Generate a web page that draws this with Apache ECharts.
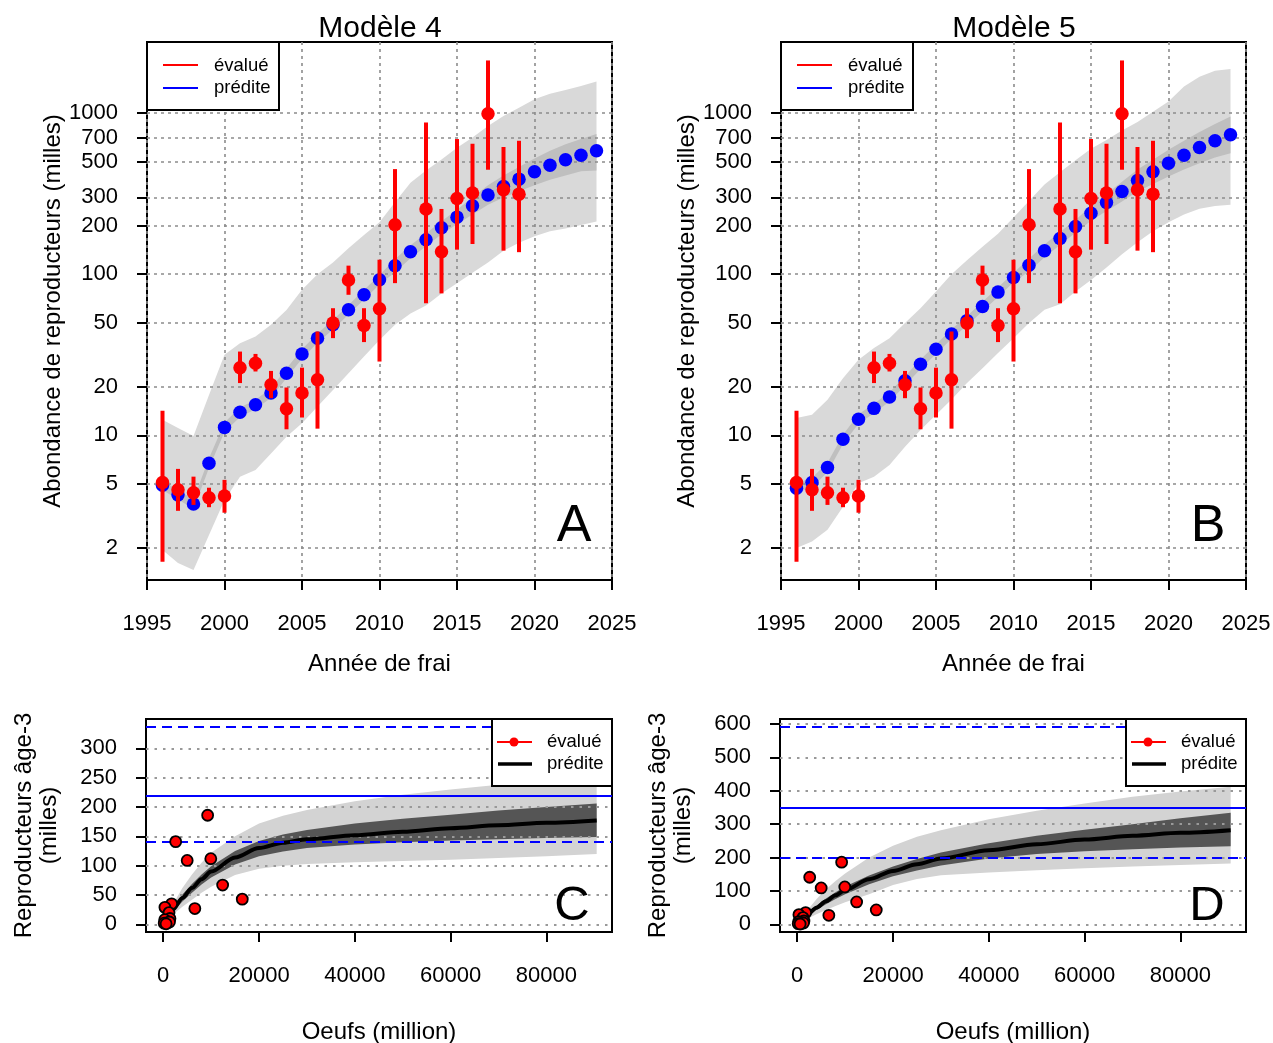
<!DOCTYPE html>
<html><head><meta charset="utf-8">
<script src="https://cdn.jsdelivr.net/npm/echarts@6/dist/echarts.min.js"></script>
<style>html,body{margin:0;padding:0;background:#fff}#c{width:1273px;height:1043px}</style>
</head><body><div id="c"></div>
<script>
// ---------- Data: panels A/B (spawner abundance, thousands, log scale) ----------
const years = [1996,1997,1998,1999,2000,2001,2002,2003,2004,2005,2006,2007,2008,2009,2010,2011,2012,2013,2014,2015,2016,2017,2018,2019,2020,2021,2022,2023,2024];
const evalYears = [1996,1997,1998,1999,2000,2001,2002,2003,2004,2005,2006,2007,2008,2009,2010,2011,2013,2014,2015,2016,2017,2018,2019];
const evalVal = [5.1,4.6,4.4,4.1,4.2,26.3,28.0,20.6,14.6,18.3,22.1,49.7,92,48.0,61,203,254,138,295,319,990,334,314];
const evalLo  = [1.64,3.40,3.70,3.58,3.31,21.1,24.9,17.0,10.9,12.9,11.0,40.1,74.5,37.9,28.7,88,66,76,142,154,445,140,137];
const evalHi  = [14.2,6.19,5.54,4.73,5.29,33.1,32.0,25.1,19.8,26.3,44.1,61.5,113,61.5,123,449,874,254,690,645,2121,616,673];

const predA      = [4.9,4.27,3.75,6.71,11.2,13.9,15.5,18.3,24.3,32.0,40.1,48.5,60.1,74.5,92.3,112.8,137.8,163.5,194,226,266,310,350,389,432,475,513,548,583];
const darkA_hi   = [5.25,4.57,4.0,7.2,12.0,14.9,16.6,19.6,26.0,34.2,42.9,51.9,64.3,79.7,98.8,123.6,151,179,213,251,300,357,410,463,523,584,641,690,741];
const darkA_lo   = [4.58,3.99,3.5,6.27,10.5,13.0,14.5,17.1,22.7,29.9,37.5,45.3,56.2,69.6,86.3,102.9,125.7,149,177,204,235,270,299,327,357,386,410,435,440];
const lightA_hi  = [12.5,11.1,9.9,17.8,31.6,37.3,41,48.5,60,80,100,118,145,175,210,280,370,440,515,610,705,830,960,1080,1220,1320,1390,1470,1570];
const lightA_lo  = [1.94,1.61,1.46,2.41,3.97,5.54,6.1,7.7,9.8,11.9,15.1,19.1,24.3,30.8,39,48.5,57,64,76,88,102,118,140,157,172,185,192,202,212];

const predB      = [4.7,5.09,6.31,9.46,12.6,14.7,17.3,21.8,27.6,34.2,42.5,51.5,63,77.4,95.3,113.8,139.6,166.5,197.8,239,278.6,325.8,381.6,432,489,548,611,673,733];
const darkB_hi   = [5.03,5.45,6.75,10.1,13.5,15.7,18.5,23.3,29.5,36.6,45.5,55.1,67.4,82.8,102,124.7,153,182.5,216.8,265,315,375,446,514,592,674,764,855,953];
const darkB_lo   = [4.39,4.76,5.9,8.84,11.8,13.7,16.2,20.4,25.8,32.0,39.7,48.1,58.9,72.3,89.1,103.8,127.4,151.9,180.5,215,246.5,283,326,363,404,446,489,530,564];
const lightB_hi  = [12.8,13.4,16.6,22.6,29.4,34.8,40.1,49.7,61.5,78,100,122,148,178,225,285,360,430,510,600,680,780,880,1020,1180,1460,1680,1830,1880];
const lightB_lo  = [2.0,2.19,2.59,3.6,5.05,5.54,6.55,8.5,10.8,13.4,16.7,21.1,26.1,32.4,40.1,49.7,60.1,65,78,92,110,133,158,185,210,235,255,265,270];

const logTicks = [2,5,10,20,50,100,200,300,500,700,1000];

// ---------- Data: panels C/D (stock-recruitment) ----------
const srEggs  = [9270,2600,5000,9930,12400,16500,6600,1750,350,1200,1400,300,900,200,1300,600];
const srSpawn = [186,141,109,112,67,43,27,35,29,20,10,8,3,2,4,1];

const eggsGrid = [1000,2000,4000,6000,8000,10000,15000,20000,25000,30000,40000,50000,60000,70000,80000,90500];
const curveC    = [14,25,45,62,77,90,114,130,139,145,152,158,164,169,173,177];
const darkC_hi  = [16,29,51,69,85,99,125,142,153,161,172,180,187,194,200,206];
const darkC_lo  = [12,21,39,54,68,80,102,116,124,130,136,140,143,145,147,149];
const lightC_hi = [18,34,62,85,105,122,150,172,185,195,210,221,230,238,245,252];
const lightC_lo = [10,17,30,42,54,64,84,95,100,103,106,108,110,113,116,120];

const curveD    = [14,27,50,69,87,103,135,160,180,197,222,240,254,265,274,282];
const darkD_hi  = [16,31,56,77,96,113,146,173,196,215,243,265,283,300,318,334];
const darkD_lo  = [12,23,43,60,76,90,120,144,161,176,197,211,219,225,230,234];
const lightD_hi = [20,40,75,105,130,152,200,235,262,282,315,340,362,382,398,412];
const lightD_lo = [8,16,30,43,55,66,90,118,136,147,155,162,168,173,178,182];

const refC = [336, 220, 140];   // dashed, solid, dashed
const refD = [592, 349, 199];
const ticksC = [0,50,100,150,200,250,300];
const ticksD = [0,100,200,300,400,500,600];
const eggTicks = [0,20000,40000,60000,80000];

// ---------- Helpers ----------
const FF = '"Liberation Sans", Arial, sans-serif';
const zip2 = (a,b) => a.map((v,i)=>[v,b[i]]);

function band(xi, xs, lo, hi, color) {
  const data = xs.map((x,i)=>[x, lo[i], hi[i]]);
  return {
    type:'custom', xAxisIndex:xi, yAxisIndex:xi, z:0, silent:true, clip:true,
    data, encode:{x:0, y:[1,2]},
    renderItem(params, api) {
      if (params.dataIndex !== 0) return null;
      const top = [], bot = [];
      for (let i=0;i<data.length;i++) {
        top.push(api.coord([data[i][0], data[i][2]]));
        bot.push(api.coord([data[i][0], data[i][1]]));
      }
      return {type:'polygon', shape:{points: top.concat(bot.reverse())}, style:{fill:color}};
    }
  };
}
function errBars(xi) {
  return {
    type:'custom', xAxisIndex:xi, yAxisIndex:xi, z:4, silent:true,
    data: evalYears.map((y,i)=>[y, evalLo[i], evalHi[i]]), encode:{x:0, y:[1,2]},
    renderItem(params, api) {
      const x = api.value(0);
      const p1 = api.coord([x, api.value(1)]), p2 = api.coord([x, api.value(2)]);
      return {type:'line', shape:{x1:p1[0],y1:p1[1],x2:p2[0],y2:p2[1]}, style:{stroke:'#ff0000', lineWidth:4}};
    }
  };
}
const tickStyle = {show:true, length:10, inside:false, lineStyle:{color:'#000', width:2}};
const labelStyle = {fontSize:22, color:'#000', fontFamily:FF};
const nameStyle = {fontSize:24, color:'#000', fontFamily:FF};
const noLine = {show:false, onZero:false};

function xYear(gi) {
  return {gridIndex:gi, type:'value', min:1995, max:2025, interval:5, z:1,
    axisLine:noLine, axisTick:tickStyle,
    axisLabel:Object.assign({margin:33, formatter:v=>String(v)}, labelStyle),
    splitLine:{show:true, lineStyle:{color:'#8c8c8c', width:1.6, type:[3,4]}},
    name:'Année de frai', nameLocation:'middle', nameGap:72, nameTextStyle:nameStyle};
}
function yLog(gi) {
  return {gridIndex:gi, type:'log', logBase:10, min:1.265, max:2761, z:1,
    axisLine:noLine,
    axisTick:Object.assign({customValues:logTicks}, tickStyle),
    axisLabel:Object.assign({customValues:logTicks, margin:29, padding:[4,0,0,0], formatter:v=>String(Math.round(v))}, labelStyle),
    splitLine:{show:true, lineStyle:{color:'#8c8c8c', width:1.6, type:[3,4]}},
    minorTick:{show:false}, minorSplitLine:{show:false},
    name:'Abondance de reproducteurs (milles)', nameLocation:'middle', nameGap:70, nameTextStyle:nameStyle};
}
function xEggs(gi) {
  return {gridIndex:gi, type:'value', min:-3600, max:93700, z:1,
    axisLine:noLine,
    axisTick:Object.assign({customValues:eggTicks}, tickStyle),
    axisLabel:Object.assign({customValues:eggTicks, margin:33, formatter:v=>String(v)}, labelStyle),
    splitLine:{show:false},
    name:'Oeufs (million)', nameLocation:'middle', nameGap:88, nameTextStyle:nameStyle};
}
function ySR(gi, min, max, ticks) {
  return {gridIndex:gi, type:'value', min:min, max:max, z:1,
    axisLine:noLine,
    axisTick:Object.assign({customValues:ticks}, tickStyle),
    axisLabel:Object.assign({customValues:ticks, margin:29, padding:[4,0,0,0], formatter:v=>String(v)}, labelStyle),
    splitLine:{show:true, lineStyle:{color:'#999', width:2, type:[2.5,6]}},
    name:'Reproducteurs âge-3\n(milles)', nameLocation:'middle', nameGap:84,
    nameTextStyle:Object.assign({lineHeight:25}, nameStyle)};
}
function refLines(xi, vals) {
  return {type:'line', xAxisIndex:xi, yAxisIndex:xi, data:[], z:3, silent:true,
    markLine:{silent:true, symbol:'none', label:{show:false}, animation:false,
      data:[
        {yAxis:vals[0], lineStyle:{color:'#0000ff', width:2, type:[10,6]}},
        {yAxis:vals[1], lineStyle:{color:'#0000ff', width:2, type:'solid'}},
        {yAxis:vals[2], lineStyle:{color:'#0000ff', width:2, type:[10,6]}}
      ]}};
}

// legend graphics
function legendAB(x0) {
  return [
    {type:'rect', z:100, shape:{x:x0, y:42, width:132, height:68}, style:{fill:'#fff', stroke:'#000', lineWidth:2}},
    {type:'line', z:101, shape:{x1:x0+16, y1:65, x2:x0+51, y2:65}, style:{stroke:'#ff0000', lineWidth:2}},
    {type:'line', z:101, shape:{x1:x0+16, y1:88, x2:x0+51, y2:88}, style:{stroke:'#0000ff', lineWidth:2}},
    {type:'text', z:101, style:{x:x0+67, y:66, text:'évalué', fill:'#000', font:'18.5px '+FF, textAlign:'left', textVerticalAlign:'middle'}},
    {type:'text', z:101, style:{x:x0+67, y:88, text:'prédite', fill:'#000', font:'18.5px '+FF, textAlign:'left', textVerticalAlign:'middle'}}
  ];
}
function legendCD(x0) {
  return [
    {type:'rect', z:100, shape:{x:x0, y:719, width:120, height:67}, style:{fill:'#fff', stroke:'#000', lineWidth:2}},
    {type:'line', z:101, shape:{x1:x0+5, y1:742, x2:x0+40, y2:742}, style:{stroke:'#ff0000', lineWidth:2}},
    {type:'circle', z:102, shape:{cx:x0+22, cy:742, r:4.5}, style:{fill:'#ff0000'}},
    {type:'line', z:101, shape:{x1:x0+6, y1:764, x2:x0+40, y2:764}, style:{stroke:'#000', lineWidth:3.5}},
    {type:'text', z:101, style:{x:x0+55, y:742, text:'évalué', fill:'#000', font:'18.5px '+FF, textAlign:'left', textVerticalAlign:'middle'}},
    {type:'text', z:101, style:{x:x0+55, y:764, text:'prédite', fill:'#000', font:'18.5px '+FF, textAlign:'left', textVerticalAlign:'middle'}}
  ];
}
function letter(txt, cx, cy, size) {
  return {type:'text', z:100, style:{x:cx, y:cy, text:txt, fill:'#000', font:size+'px '+FF, textAlign:'center', textVerticalAlign:'middle'}};
}
const solid = c => ({color:c, opacity:1});
const gridBase = {show:true, borderColor:'#000', borderWidth:2, backgroundColor:'transparent', containLabel:false, outerBoundsMode:'none'};

const option = {
  animation:false,
  backgroundColor:'#fff',
  title:[
    {text:'Modèle 4', left:380, top:14, padding:0, textAlign:'center', textStyle:{fontSize:30, fontWeight:'normal', color:'#000', fontFamily:FF}},
    {text:'Modèle 5', left:1014, top:14, padding:0, textAlign:'center', textStyle:{fontSize:30, fontWeight:'normal', color:'#000', fontFamily:FF}}
  ],
  grid:[
    Object.assign({left:147, top:42, width:465, height:538}, gridBase),
    Object.assign({left:781, top:42, width:465, height:538}, gridBase),
    Object.assign({left:146, top:719, width:466, height:213}, gridBase),
    Object.assign({left:780, top:719, width:466, height:213}, gridBase)
  ],
  xAxis:[xYear(0), xYear(1), xEggs(2), xEggs(3)],
  yAxis:[yLog(0), yLog(1), ySR(2,-13,350,ticksC), ySR(3,-23,615,ticksD)],
  series:[
    // Panel A
    band(0, years, lightA_lo, lightA_hi, '#d9d9d9'),
    band(0, years, darkA_lo, darkA_hi, '#bfbfbf'),
    {type:'scatter', name:'prédite', xAxisIndex:0, yAxisIndex:0, z:3, symbolSize:13.5, itemStyle:solid('#0000ff'), data:zip2(years, predA)},
    errBars(0),
    {type:'scatter', name:'évalué', xAxisIndex:0, yAxisIndex:0, z:5, symbolSize:13.5, itemStyle:solid('#ff0000'), data:zip2(evalYears, evalVal)},
    // Panel B
    band(1, years, lightB_lo, lightB_hi, '#d9d9d9'),
    band(1, years, darkB_lo, darkB_hi, '#bfbfbf'),
    {type:'scatter', name:'prédite', xAxisIndex:1, yAxisIndex:1, z:3, symbolSize:13.5, itemStyle:solid('#0000ff'), data:zip2(years, predB)},
    errBars(1),
    {type:'scatter', name:'évalué', xAxisIndex:1, yAxisIndex:1, z:5, symbolSize:13.5, itemStyle:solid('#ff0000'), data:zip2(evalYears, evalVal)},
    // Panel C
    band(2, eggsGrid, lightC_lo, lightC_hi, '#d3d3d3'),
    band(2, eggsGrid, darkC_lo, darkC_hi, '#555555'),
    refLines(2, refC),
    {type:'line', name:'prédite', xAxisIndex:2, yAxisIndex:2, z:4, showSymbol:false, smooth:0.3, smoothMonotone:'x', lineStyle:{color:'#000', width:4}, data:zip2(eggsGrid, curveC)},
    {type:'scatter', name:'évalué', xAxisIndex:2, yAxisIndex:2, z:5, symbolSize:11, itemStyle:{color:'#ff0000', opacity:1, borderColor:'#000', borderWidth:1.8}, data:zip2(srEggs, srSpawn)},
    // Panel D
    band(3, eggsGrid, lightD_lo, lightD_hi, '#d3d3d3'),
    band(3, eggsGrid, darkD_lo, darkD_hi, '#555555'),
    refLines(3, refD),
    {type:'line', name:'prédite', xAxisIndex:3, yAxisIndex:3, z:4, showSymbol:false, smooth:0.3, smoothMonotone:'x', lineStyle:{color:'#000', width:4}, data:zip2(eggsGrid, curveD)},
    {type:'scatter', name:'évalué', xAxisIndex:3, yAxisIndex:3, z:5, symbolSize:11, itemStyle:{color:'#ff0000', opacity:1, borderColor:'#000', borderWidth:1.8}, data:zip2(srEggs, srSpawn)}
  ],
  graphic:[].concat(
    legendAB(147), legendAB(781), legendCD(492), legendCD(1126),
    [letter('A', 574, 527, 52), letter('B', 1208, 527, 52), letter('C', 572, 906, 49), letter('D', 1207, 906, 49)]
  )
};

const chart = echarts.init(document.getElementById('c'), null, {renderer:'canvas'});
chart.setOption(option);
</script>
</body></html>
